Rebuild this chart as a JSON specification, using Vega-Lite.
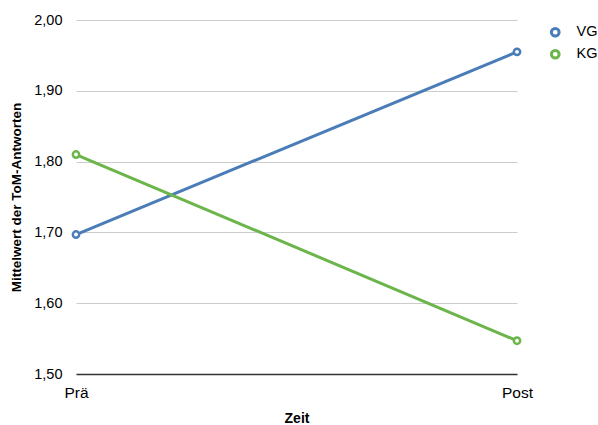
{
  "$schema": "https://vega.github.io/schema/vega-lite/v6.json",
  "autosize": "none",
  "width": 441,
  "height": 354,
  "padding": {"left": 76, "top": 20, "right": 81, "bottom": 51},
  "background": "white",
  "config": {
    "font": "Liberation Sans",
    "view": {"stroke": null}
  },
  "data": {
    "values": [
      {"Zeit": "Prä", "Gruppe": "VG", "Wert": 1.697},
      {"Zeit": "Post", "Gruppe": "VG", "Wert": 1.955},
      {"Zeit": "Prä", "Gruppe": "KG", "Wert": 1.81},
      {"Zeit": "Post", "Gruppe": "KG", "Wert": 1.547}
    ]
  },
  "encoding": {
    "x": {
      "field": "Zeit", "type": "nominal", "sort": ["Prä", "Post"],
      "scale": {"type": "point", "padding": 0},
      "axis": {
        "title": "Zeit", "titleFontSize": 14, "titleFontWeight": "bold", "titlePadding": 11,
        "labelAngle": 0, "labelFontSize": 15.5, "labelPadding": 11, "labelColor": "#000",
        "ticks": false, "domainColor": "#333", "domainWidth": 1.5, "grid": false, "titleColor": "#000"
      }
    },
    "y": {
      "field": "Wert", "type": "quantitative",
      "scale": {"domain": [1.5, 2.0], "nice": false, "zero": false},
      "axis": {
        "title": "Mittelwert der ToM-Antworten", "titleFontSize": 13.5, "titleFontWeight": "bold",
        "titleColor": "#000", "titlePadding": 10,
        "values": [1.5, 1.6, 1.7, 1.8, 1.9, 2.0],
        "labelExpr": "replace(format(datum.value, '.2f'), '.', ',')",
        "labelFontSize": 14.5, "labelPadding": 14, "labelColor": "#000",
        "ticks": false, "domain": false, "grid": true, "gridColor": "#cccccc", "gridWidth": 1
      }
    },
    "color": {
      "field": "Gruppe", "type": "nominal",
      "scale": {"domain": ["VG", "KG"], "range": ["#4a7db8", "#6cb54a"]},
      "legend": {
        "title": null, "orient": "none", "legendX": 472, "legendY": 5,
        "symbolType": "circle", "symbolSize": 60, "symbolStrokeWidth": 3, "symbolFillColor": "white",
        "labelFontSize": 14.5, "labelColor": "#000", "rowPadding": 1, "padding": 0, "labelOffset": 14
      }
    }
  },
  "layer": [
    {"mark": {"type": "line", "strokeWidth": 3}},
    {"mark": {"type": "point", "filled": false, "fill": "white", "strokeWidth": 2.5, "size": 40, "opacity": 1}}
  ]
}
